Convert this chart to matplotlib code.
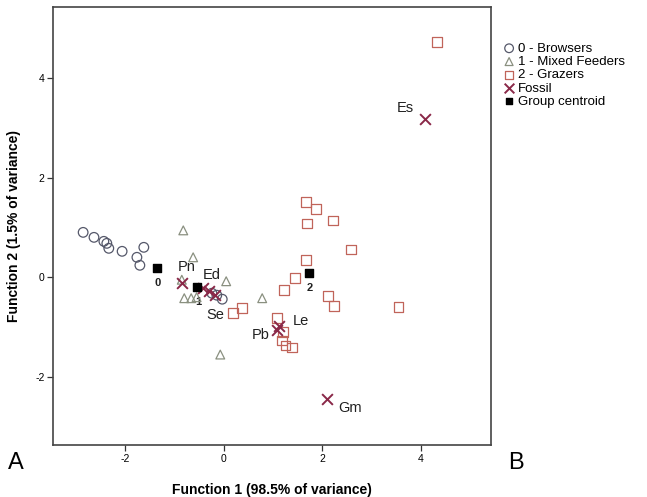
import matplotlib.pyplot as plt

plt.rcParams['font.family'] = ['Liberation Sans', 'DejaVu Sans']
plt.rcParams['axes.unicode_minus'] = False

# discriminant scores
browsers_x = [-2.85, -2.63, -2.43, -2.37, -2.33, -2.06, -1.76, -1.70, -1.62, -0.24, -0.14, -0.03]
browsers_y = [0.90, 0.80, 0.72, 0.68, 0.58, 0.52, 0.40, 0.24, 0.60, -0.32, -0.36, -0.44]

mixed_x = [-0.82, -0.62, 0.05, -0.80, -0.66, -0.55, 0.78, -0.07, -0.85]
mixed_y = [0.94, 0.40, -0.08, -0.42, -0.42, -0.40, -0.42, -1.55, -0.05]

grazers_x = [1.67, 1.87, 1.69, 2.22, 2.58, 1.67, 1.45, 1.22, 2.11, 2.24, 3.54,
             1.08, 1.20, 1.18, 1.25, 1.39, 0.37, 0.19, 4.33]
grazers_y = [1.51, 1.37, 1.08, 1.14, 0.56, 0.34, -0.02, -0.26, -0.38, -0.58, -0.60,
             -0.82, -1.10, -1.27, -1.37, -1.41, -0.62, -0.72, 4.72]

fossil_names = ['Pn', 'Ed', '', 'Se', 'Pb', 'Le', 'Gm', 'Es']
fossil_x = [-0.85, -0.42, -0.30, -0.18, 1.08, 1.12, 2.10, 4.08]
fossil_y = [-0.12, -0.22, -0.28, -0.36, -1.05, -0.98, -2.45, 3.17]
# where each fossil name is written
fossil_label_x = [-0.76, -0.24, 0, -0.17, 0.74, 1.57, 2.56, 3.68]
fossil_label_y = [0.20, 0.04, 0, -0.76, -1.16, -0.88, -2.63, 3.39]

centroid_names = ['0', '1', '2']
centroid_x = [-1.35, -0.54, 1.73]
centroid_y = [0.18, -0.20, 0.08]

fig = plt.figure(figsize=(6.47, 4.97), dpi=100)
ax = fig.add_axes([0.082, 0.104, 0.677, 0.882])

ax.scatter(browsers_x, browsers_y, s=48, marker='o', facecolors='none',
           edgecolors='#55586a', linewidths=0.9, label='0 - Browsers', zorder=3)
ax.scatter(mixed_x, mixed_y, s=40, marker='^', facecolors='none',
           edgecolors='#8a9080', linewidths=0.9, label='1 - Mixed Feeders', zorder=3)
ax.scatter(grazers_x, grazers_y, s=48, marker='s', facecolors='none',
           edgecolors='#c0645a', linewidths=0.9, label='2 - Grazers', zorder=3)
ax.scatter(fossil_x, fossil_y, s=60, marker='x', color='#8a2848',
           linewidths=1.4, label='Fossil', zorder=4)
ax.scatter(centroid_x, centroid_y, s=30, marker='s', color='black',
           label='Group centroid', zorder=5)

for name, lx, ly in zip(fossil_names, fossil_label_x, fossil_label_y):
    if name:
        ax.text(lx, ly, name, fontsize=10.5, color='#202020', ha='center', va='center', zorder=6)

for name, cx, cy in zip(centroid_names, centroid_x, centroid_y):
    ax.text(cx + 0.02, cy - 0.3, name, fontsize=8, fontweight='bold', color='#202020',
            ha='center', va='center', zorder=2)

ax.set_xlim(-3.46, 5.42)
ax.set_ylim(-3.37, 5.42)
ax.set_xticks([-2, 0, 2, 4])
ax.set_yticks([-2, 0, 2, 4])
ax.tick_params(labelsize=7.5, length=4, width=0.9, color='#333333', pad=2)
for sp in ax.spines.values():
    sp.set_color('#444444')
    sp.set_linewidth(1.2)

ax.set_xlabel('Function 1 (98.5% of variance)', fontsize=10, fontweight='bold', labelpad=14)
ax.set_ylabel('Function 2 (1.5% of variance)', fontsize=10, fontweight='bold', labelpad=10)

ax.legend(loc='upper left', bbox_to_anchor=(1.005, 0.94), frameon=False, fontsize=9.5,
          handletextpad=0.2, labelspacing=0.08, handlelength=1.0, borderaxespad=0.3,
          markerscale=0.9)

fig.text(0.012, 0.068, 'A', fontsize=17, ha='left', va='center')
fig.text(0.785, 0.068, 'B', fontsize=17, ha='left', va='center')

fig.savefig('out.png', dpi=100)
